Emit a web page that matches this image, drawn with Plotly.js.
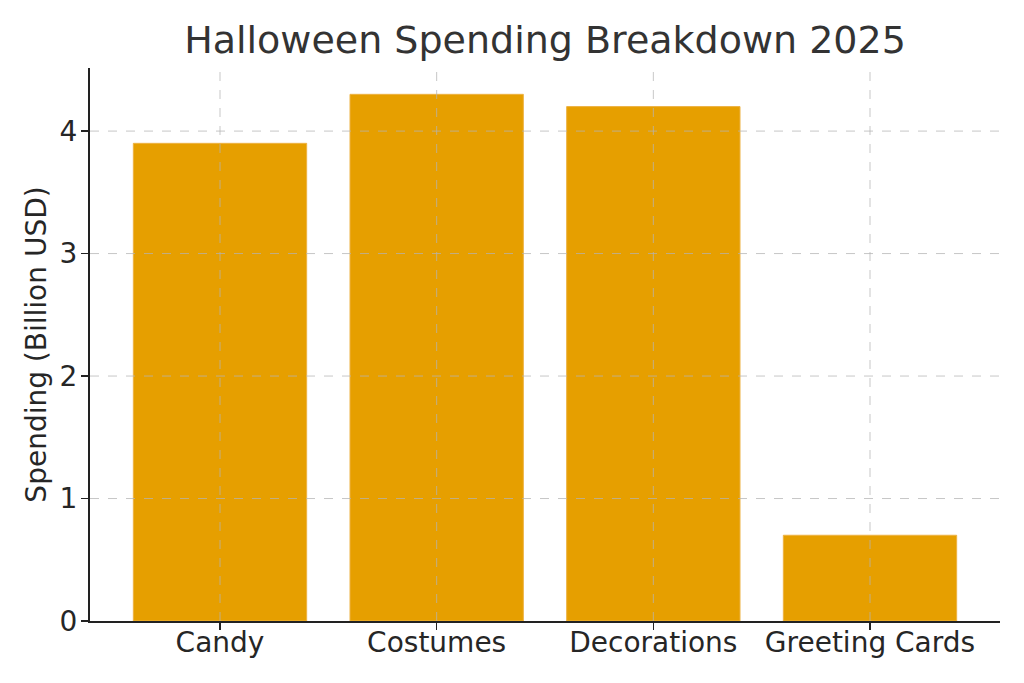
<!DOCTYPE html>
<html>
<head>
<meta charset="utf-8">
<script src="https://cdn.plot.ly/plotly-3.0.1.min.js"></script>
<style>html,body{margin:0;padding:0;background:#fff;}#chart{width:1024px;height:683px;}</style>
</head>
<body>
<div id="chart"></div>
<script>
const categories = ["Candy", "Costumes", "Decorations", "Greeting Cards"];
const spending = [3.9, 4.3, 4.2, 0.7];
const yTicks = [0, 1, 2, 3, 4];
const titleText = "Halloween Spending Breakdown 2025";
const yTitle = "Spending (Billion USD)";

const FONT = "DejaVu Sans, sans-serif";
const yMax = Math.max(...spending) * 1.05;

const gridStyle = {color: "rgba(180,180,180,0.75)", width: 1, dash: "dash"};
const shapes = [];
categories.forEach((c, i) => {
  shapes.push({type: "line", layer: "above", xref: "x", yref: "paper", x0: i, x1: i, y0: 0, y1: 1, line: gridStyle});
});
yTicks.forEach(v => {
  if (v === 0) return;
  shapes.push({type: "line", layer: "above", xref: "paper", yref: "y", x0: 0, x1: 1, y0: v, y1: v, line: gridStyle});
});

const trace = {
  type: "bar",
  x: categories.map((c, i) => i),
  y: spending,
  width: 0.8,
  marker: {color: "#E69F00", line: {color: "#EDB243", width: 1}},
  hoverinfo: "x+y"
};

const layout = {
  width: 1024, height: 683,
  margin: {l: 90, r: 24, t: 68, b: 62},
  paper_bgcolor: "#fff", plot_bgcolor: "#fff",
  font: {family: FONT, color: "#262626"},
  showlegend: false,
  title: {text: titleText, font: {family: FONT, size: 38, color: "#333333"}, x: 0.5, xref: "paper", xanchor: "center", y: 1 - 40/683, yref: "container", yanchor: "middle"},
  xaxis: {
    range: [-0.6, 3.6],
    tickmode: "array", tickvals: categories.map((c, i) => i), ticktext: categories,
    showgrid: false, zeroline: false,
    showline: true, linecolor: "#222", linewidth: 2,
    ticks: "outside", ticklen: 7, tickwidth: 1.5, tickcolor: "#222",
    tickfont: {family: FONT, size: 28, color: "#262626"},
    ticklabelstandoff: -12,
    fixedrange: true
  },
  yaxis: {
    range: [0, yMax],
    tickmode: "array", tickvals: yTicks, ticktext: yTicks.map(String),
    showgrid: false, zeroline: false,
    showline: true, linecolor: "#222", linewidth: 2,
    ticks: "outside", ticklen: 7, tickwidth: 1.5, tickcolor: "#222",
    tickfont: {family: FONT, size: 28, color: "#262626"},
    ticklabelstandoff: -2,
    title: {text: yTitle, font: {family: FONT, size: 28, color: "#262626"}, standoff: 5},
    automargin: false,
    fixedrange: true
  },
  shapes: shapes,
  bargap: 0.2
};

Plotly.newPlot("chart", [trace], layout, {displayModeBar: false, staticPlot: true});
</script>
</body>
</html>
